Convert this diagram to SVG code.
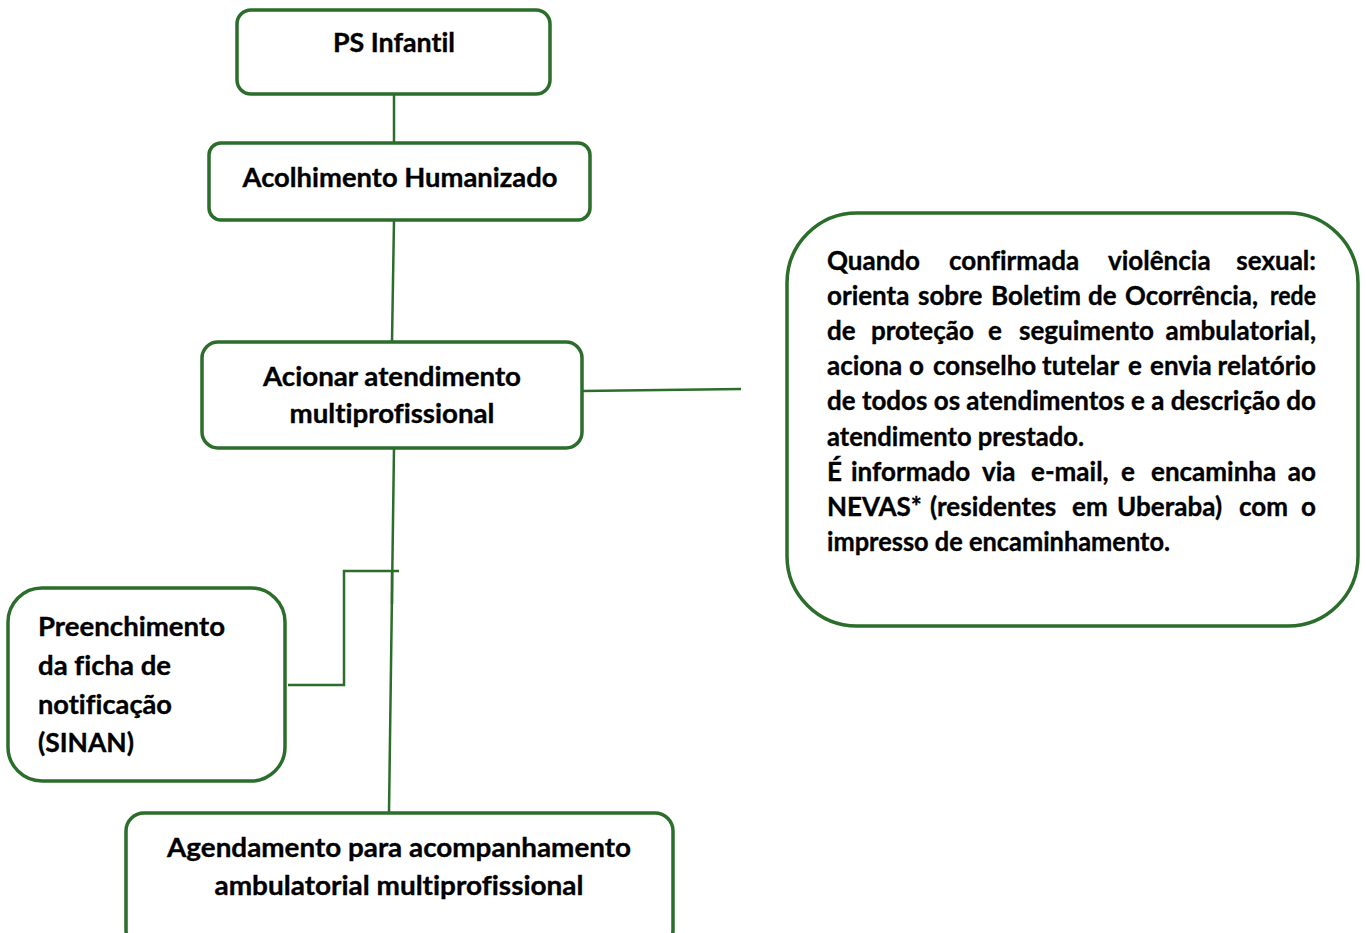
<svg xmlns="http://www.w3.org/2000/svg" width="1366" height="933" viewBox="0 0 1366 933">
<style>
.box{fill:#fff;stroke:#2b6e2b;stroke-width:3.5}
.ln{fill:none;stroke:#2b6e2b;stroke-width:2.5}
text{font-family:Lato,"Open Sans","Liberation Sans",sans-serif;font-weight:bold;fill:#000;stroke:#000;stroke-width:0.35;font-variant-ligatures:none}
.t{font-size:26px}
.c{text-anchor:middle}
.e{text-anchor:end}
</style>
<rect width="1366" height="933" fill="#fff"/>
<g id="connectors">
<line class="ln" x1="394" y1="94" x2="394" y2="143"/>
<line class="ln" x1="394" y1="220" x2="392" y2="342"/>
<line class="ln" x1="582" y1="391" x2="741" y2="389"/>
<line class="ln" x1="394" y1="448" x2="389" y2="812"/>
<line class="ln" x1="392" y1="571" x2="392" y2="604"/>
<polyline class="ln" points="288,685 344,685 344,571 399,571"/>
</g>
<g id="ps-infantil">
<rect class="box" x="237" y="10" width="313" height="84" rx="14"/>
<text class="t c" x="394" y="52" textLength="122" lengthAdjust="spacingAndGlyphs">PS Infantil</text>
</g>
<g id="acolhimento">
<rect class="box" x="209" y="143" width="381" height="77" rx="12"/>
<text class="t c" x="400" y="187" textLength="315" lengthAdjust="spacingAndGlyphs">Acolhimento Humanizado</text>
</g>
<g id="acionar">
<rect class="box" x="202" y="342" width="380" height="106" rx="16"/>
<text class="t c" x="392" y="386" textLength="258" lengthAdjust="spacingAndGlyphs">Acionar atendimento</text>
<text class="t c" x="392" y="423" textLength="205" lengthAdjust="spacingAndGlyphs">multiprofissional</text>
</g>
<g id="sinan">
<rect class="box" x="8" y="588" width="277" height="193" rx="34"/>
<text class="t" x="38" y="636" textLength="187" lengthAdjust="spacingAndGlyphs">Preenchimento</text>
<text class="t" x="38" y="675" textLength="133" lengthAdjust="spacingAndGlyphs">da ficha de</text>
<text class="t" x="38" y="714" textLength="134" lengthAdjust="spacingAndGlyphs">notificação</text>
<text class="t" x="38" y="752" textLength="96" lengthAdjust="spacingAndGlyphs">(SINAN)</text>
</g>
<g id="agendamento">
<rect class="box" x="126" y="813" width="547" height="135" rx="18"/>
<text class="t c" x="399" y="857" textLength="464" lengthAdjust="spacingAndGlyphs">Agendamento para acompanhamento</text>
<text class="t c" x="399" y="895" textLength="369" lengthAdjust="spacingAndGlyphs">ambulatorial multiprofissional</text>
</g>
<g id="violencia">
<rect class="box" x="787" y="213" width="571" height="413" rx="70"/>
<text class="t" y="270"><tspan x="827">Quando</tspan><tspan x="949">confirmada</tspan><tspan x="1108">violência</tspan></text>
<text class="t e" x="1316" y="270">sexual:</text>
<text class="t" y="305"><tspan x="827">orienta</tspan><tspan x="918">sobre</tspan><tspan x="991">Boletim</tspan><tspan x="1088">de</tspan><tspan x="1125" textLength="133" lengthAdjust="spacingAndGlyphs">Ocorrência,</tspan></text>
<text class="t e" x="1316" y="305" textLength="46" lengthAdjust="spacingAndGlyphs">rede</text>
<text class="t" y="340"><tspan x="827">de</tspan><tspan x="871">proteção</tspan><tspan x="988">e</tspan><tspan x="1019">seguimento</tspan></text>
<text class="t e" x="1316" y="340">ambulatorial,</text>
<text class="t" y="375"><tspan x="827">aciona</tspan><tspan x="909">o</tspan><tspan x="933">conselho</tspan><tspan x="1042">tutelar</tspan><tspan x="1128">e</tspan><tspan x="1150">envia</tspan></text>
<text class="t e" x="1316" y="375">relatório</text>
<text class="t" x="827" y="410" textLength="489" lengthAdjust="spacingAndGlyphs">de todos os atendimentos e a descrição do</text>
<text class="t" x="827" y="446" textLength="257" lengthAdjust="spacingAndGlyphs">atendimento prestado.</text>
<text class="t" y="481"><tspan x="827">É</tspan><tspan x="851">informado</tspan><tspan x="982">via</tspan><tspan x="1031">e-mail,</tspan><tspan x="1121">e</tspan><tspan x="1151">encaminha</tspan></text>
<text class="t e" x="1316" y="481">ao</text>
<text class="t" y="516"><tspan x="827">NEVAS*</tspan><tspan x="930">(residentes</tspan><tspan x="1072">em</tspan><tspan x="1117">Uberaba)</tspan><tspan x="1239">com</tspan></text>
<text class="t e" x="1316" y="516">o</text>
<text class="t" x="827" y="551" textLength="343" lengthAdjust="spacingAndGlyphs">impresso de encaminhamento.</text>
</g>
</svg>
